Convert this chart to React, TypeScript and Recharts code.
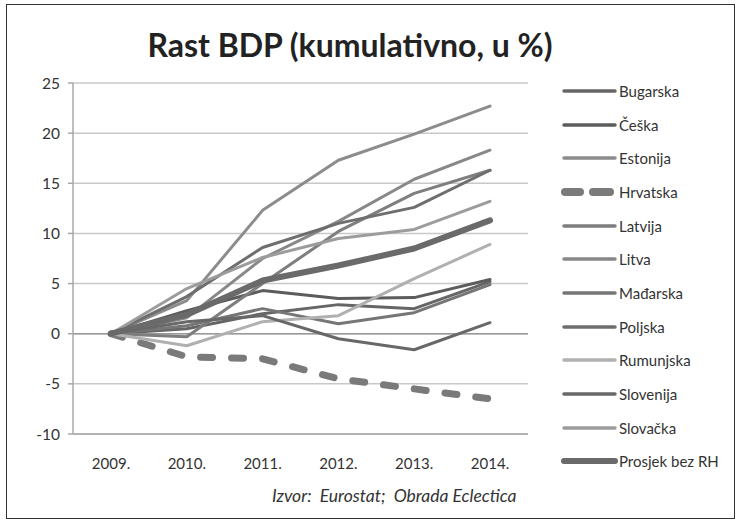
import React from 'react';
import { LineChart, Line, XAxis, YAxis, CartesianGrid, ReferenceLine } from 'recharts';

const years = ['2009.', '2010.', '2011.', '2012.', '2013.', '2014.'];
const yTicks = [-10, -5, 0, 5, 10, 15, 20, 25];

const bugarska = [0, 0.5, 2.0, 2.9, 2.5, 5.2];
const ceska = [0, 2.3, 4.3, 3.5, 3.6, 5.4];
const estonija = [0, 3.3, 12.3, 17.3, 19.9, 22.7];
const hrvatska = [0, -2.3, -2.5, -4.5, -5.5, -6.5];
const latvija = [0, -0.3, 5.0, 10.2, 14.0, 16.3];
const litva = [0, 1.6, 7.5, 11.2, 15.4, 18.3];
const madarska = [0, 0.8, 2.5, 1.0, 2.1, 4.9];
const poljska = [0, 3.7, 8.6, 11.0, 12.6, 16.3];
const rumunjska = [0, -1.2, 1.2, 1.8, 5.5, 8.9];
const slovenija = [0, 1.2, 1.8, -0.5, -1.6, 1.1];
const slovacka = [0, 4.5, 7.6, 9.5, 10.4, 13.2];
const prosjek = [0, 1.9, 5.3, 6.8, 8.5, 11.3];

const series = [
  { key: 'Bugarska', values: bugarska, color: '#666666', width: 3 },
  { key: 'Češka', values: ceska, color: '#5c5c5c', width: 3 },
  { key: 'Estonija', values: estonija, color: '#8c8c8c', width: 3 },
  { key: 'Hrvatska', values: hrvatska, color: '#7a7a7a', width: 7, dash: '12 19' },
  { key: 'Latvija', values: latvija, color: '#7e7e7e', width: 3 },
  { key: 'Litva', values: litva, color: '#888888', width: 3 },
  { key: 'Mađarska', values: madarska, color: '#767676', width: 3 },
  { key: 'Poljska', values: poljska, color: '#6e6e6e', width: 3 },
  { key: 'Rumunjska', values: rumunjska, color: '#b0b0b0', width: 3 },
  { key: 'Slovenija', values: slovenija, color: '#686868', width: 3 },
  { key: 'Slovačka', values: slovacka, color: '#9c9c9c', width: 3 },
  { key: 'Prosjek bez RH', values: prosjek, color: '#6a6a6a', width: 6 },
];

const data = years.map((year, i) => {
  const row: Record<string, string | number> = { year };
  series.forEach((s) => { row[s.key] = s.values[i]; });
  return row;
});

const font = 'Lato, "Open Sans", sans-serif';

export default function App() {
  return (
    <div style={{ position: 'absolute', left: 0, top: 0, width: 741, height: 524, background: '#fff', fontFamily: font }}>
      <div style={{ position: 'absolute', left: 6, top: 4, width: 727, height: 513, border: '1px solid #333' }} />
      <div style={{ position: 'absolute', left: 0, top: 25, width: 700, textAlign: 'center', fontSize: 32, fontWeight: 700, color: '#222' }}>
        Rast BDP (kumulativno, u %)
      </div>

      <div style={{ position: 'absolute', left: 0, top: 0 }}>
        <LineChart width={741} height={524} data={data} margin={{ top: 83, right: 213, left: 33, bottom: 60 }}>
          <CartesianGrid vertical={false} stroke="#c8c8c8" strokeWidth={1.5} />
          <XAxis
            dataKey="year"
            padding={{ left: 38, right: 38 }}
            stroke="#a8a8a8"
            strokeWidth={1.5}
            tickLine={false}
            tickMargin={18}
            tick={{ fontSize: 15, fill: '#333', fontFamily: font }}
          />
          <YAxis
            domain={[-10, 25]}
            ticks={yTicks}
            width={40}
            stroke="#a8a8a8"
            strokeWidth={1.5}
            tickSize={5}
            tickMargin={8}
            tick={{ fontSize: 15.5, fill: '#333', fontFamily: font }}
          />
          <ReferenceLine y={0} stroke="#9a9a9a" strokeWidth={1.5} />
          {series.map((s) => (
            <Line
              key={s.key}
              type="linear"
              dataKey={s.key}
              stroke={s.color}
              strokeWidth={s.width}
              strokeDasharray={s.dash}
              strokeLinecap="round"
              strokeLinejoin="round"
              dot={false}
              activeDot={false}
              isAnimationActive={false}
            />
          ))}
        </LineChart>
      </div>

      <div style={{ position: 'absolute', left: 560, top: 74 }}>
        {series.map((s) => (
          <div key={s.key} style={{ display: 'flex', alignItems: 'center', height: 33.7 }}>
            <svg width={58} height={12} style={{ marginRight: 1 }}>
              {s.dash ? (
                <>
                  <line x1={5} y1={6} x2={20} y2={6} stroke={s.color} strokeWidth={8} strokeLinecap="round" />
                  <line x1={33} y1={6} x2={50} y2={6} stroke={s.color} strokeWidth={8} strokeLinecap="round" />
                </>
              ) : (
                <line x1={4} y1={6} x2={55} y2={6} stroke={s.color} strokeWidth={s.width === 6 ? 6 : 3.5} strokeLinecap="round" />
              )}
            </svg>
            <span style={{ fontSize: 15, color: '#333' }}>{s.key}</span>
          </div>
        ))}
      </div>

      <div style={{ position: 'absolute', left: 272, top: 485, fontSize: 17.5, fontStyle: 'italic', color: '#333', whiteSpace: 'pre' }}>
        {'Izvor:  Eurostat;  Obrada Eclectica'}
      </div>
    </div>
  );
}
